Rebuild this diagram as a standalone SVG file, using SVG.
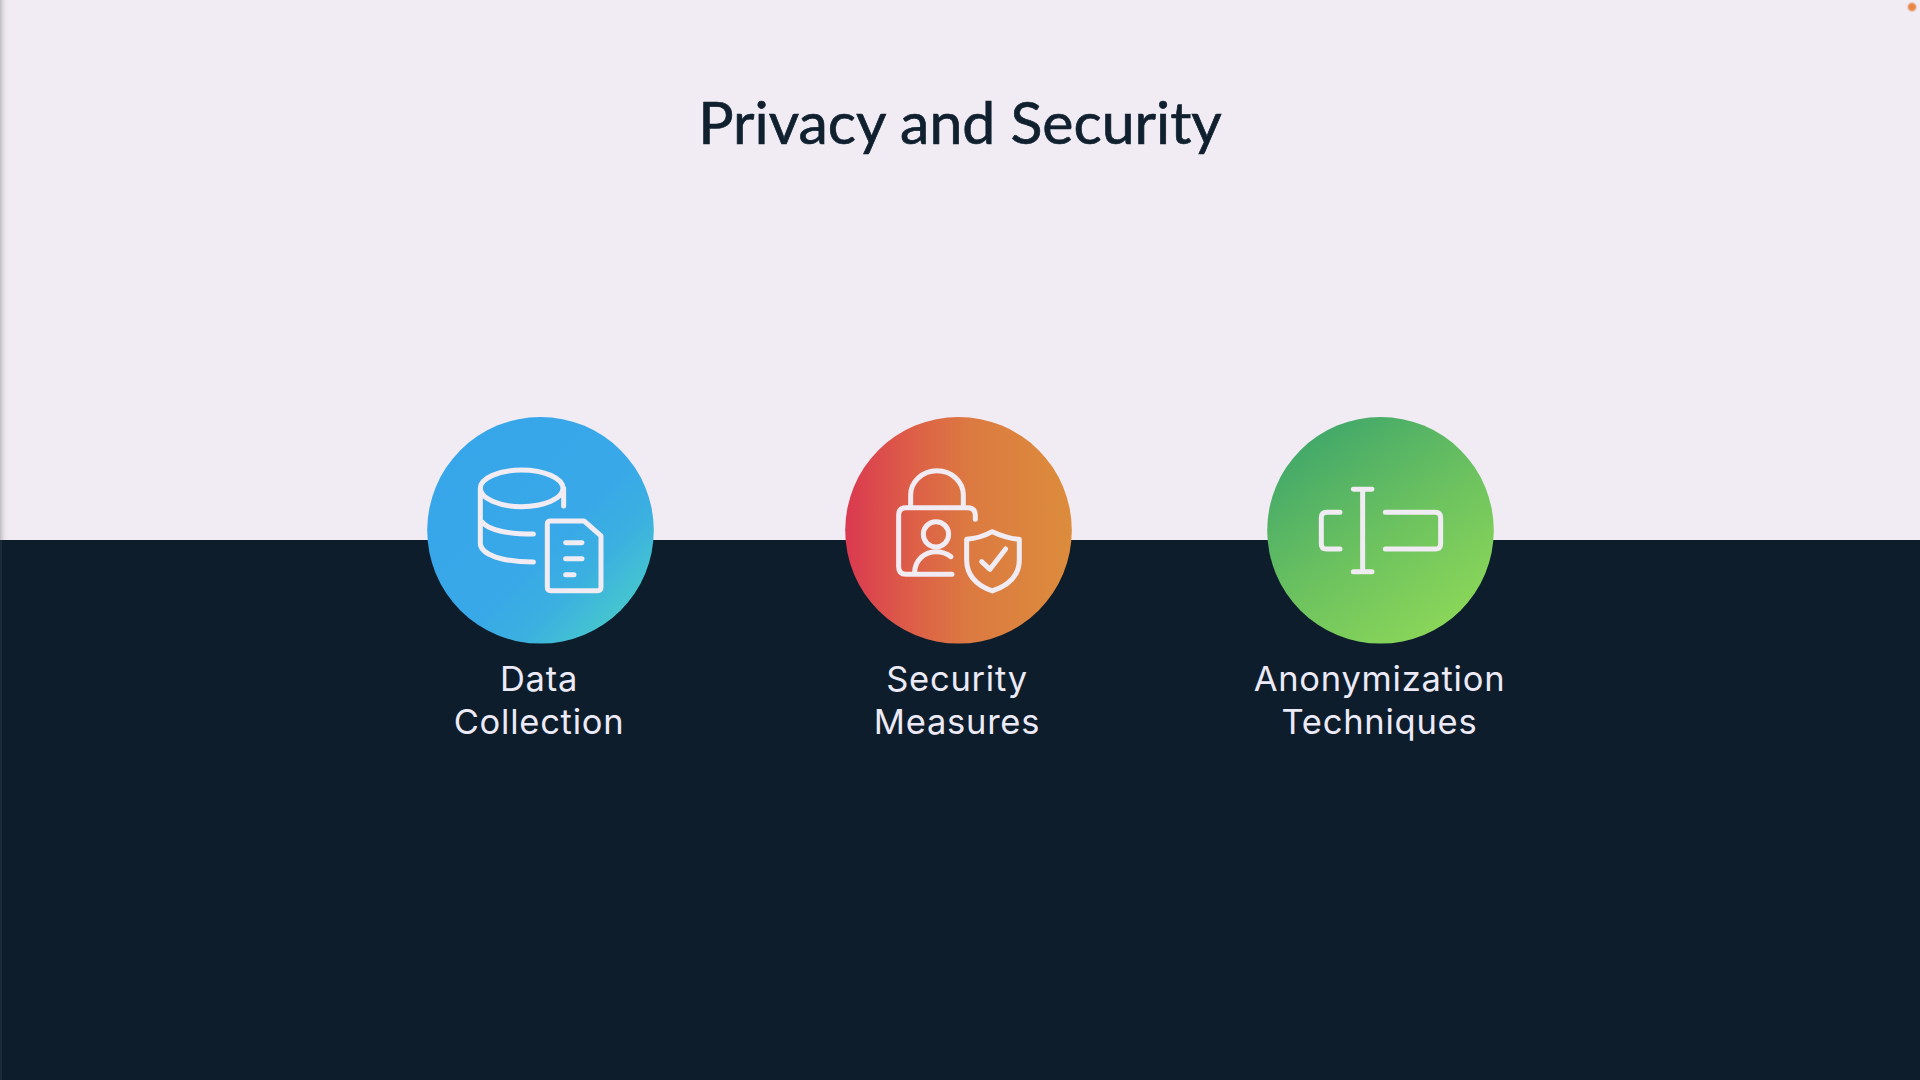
<svg xmlns="http://www.w3.org/2000/svg" width="1920" height="1080" viewBox="0 0 1920 1080">
<defs>
<linearGradient id="gBlue" x1="0.1" y1="0.1" x2="0.9" y2="0.9"><stop offset="0" stop-color="#36a6ea"/><stop offset="0.55" stop-color="#38a8e8"/><stop offset="0.75" stop-color="#3bb0e0"/><stop offset="1" stop-color="#48cbca"/></linearGradient>
<linearGradient id="gRed" x1="0" y1="0.5" x2="1" y2="0.5"><stop offset="0" stop-color="#da3950"/><stop offset="0.3" stop-color="#dd5f47"/><stop offset="0.55" stop-color="#dc7a41"/><stop offset="1" stop-color="#dc8c3c"/></linearGradient>
<linearGradient id="gGreen" x1="0.2" y1="0.1" x2="0.8" y2="0.95"><stop offset="0" stop-color="#44a969"/><stop offset="0.5" stop-color="#6cc25f"/><stop offset="1" stop-color="#8cd759"/></linearGradient>
<linearGradient id="edge" x1="0" y1="0" x2="1" y2="0"><stop offset="0" stop-color="#8c8c90" stop-opacity="0.5"/><stop offset="0.4" stop-color="#c9c7cc" stop-opacity="0.35"/><stop offset="1" stop-color="#f1ecf3" stop-opacity="0"/></linearGradient>
<radialGradient id="dot"><stop offset="0" stop-color="#e8803c"/><stop offset="0.55" stop-color="#e98b52"/><stop offset="1" stop-color="#f1ecf3" stop-opacity="0"/></radialGradient>
</defs>
<style>
.ico{fill:none;stroke:#f1ecf3;stroke-width:15;stroke-linecap:round;stroke-linejoin:round}
.lbl{font-family:Inter,"Liberation Sans",sans-serif;font-size:34.5px;fill:#eceaf7;text-anchor:middle;letter-spacing:0.75px}
.ttl{font-family:Lato,"Open Sans",sans-serif;font-size:59px;fill:#10202f;stroke:#10202f;stroke-width:0.7px;text-anchor:middle}
</style>
<rect id="bg-top" x="0" y="0" width="1920" height="540" fill="#f1ecf3"/>
<rect id="bg-bottom" x="0" y="540" width="1920" height="540" fill="#0d1d2c"/>
<rect x="0" y="0" width="10" height="540" fill="url(#edge)"/>
<rect x="0" y="540" width="2" height="540" fill="#1a2a38"/>
<circle cx="1912" cy="7" r="6" fill="url(#dot)"/>
<text class="ttl" x="960" y="144">Privacy and Security</text>
<g id="node-data">
<circle cx="540.5" cy="530.3" r="113.3" fill="url(#gBlue)"/>
<g class="ico" transform="translate(410 400) scale(0.3333)">
<ellipse cx="335" cy="265" rx="124" ry="55"/>
<path d="M461 265V318M211 265V430C211 465 280 486 370 486M215 365C235 390 290 402 370 402"/>
<path d="M412 372Q412 363 422 363H522L573 408V562Q573 572 563 572H422Q412 572 412 562Z"/>
<path d="M467 428H516M467 476H516M467 524H492"/>
</g>
<text class="lbl" x="539" y="690.5">Data</text>
<text class="lbl" x="539" y="733.5">Collection</text>
</g>
<g id="node-security">
<circle cx="958.5" cy="530.3" r="113.3" fill="url(#gRed)"/>
<g class="ico" transform="translate(830 400) scale(0.3333)">
<path d="M242 320V285A79 73 0 0 1 400 285V320"/>
<path d="M436 358V345Q436 323 412 323H228Q206 323 206 345V500Q206 523 228 523H366"/>
<circle cx="318" cy="403" r="38"/>
<path d="M254 518C254 480 285 455 318 455C335 455 350 460 363 470"/>
<path d="M487 395Q530 415 568 418V480Q568 545 487 573Q410 545 410 480V418Q450 415 487 395Z"/>
<path d="M455 485L480 508L527 447"/>
</g>
<text class="lbl" x="957" y="690.5">Security</text>
<text class="lbl" x="957" y="733.5">Measures</text>
</g>
<g id="node-anon">
<circle cx="1380.5" cy="530.3" r="113.3" fill="url(#gGreen)"/>
<g class="ico" transform="translate(1250 400) scale(0.3333)">
<path d="M338 270V514M310 268H366M310 515H366"/>
<path d="M270 337H230Q214 337 214 353V431Q214 447 230 447H270"/>
<path d="M406 337H555Q572 337 572 353V431Q572 447 555 447H406"/>
</g>
<text class="lbl" x="1379.5" y="690.5">Anonymization</text>
<text class="lbl" x="1379.5" y="733.5">Techniques</text>
</g>
<g id="connectors"/>
</svg>
